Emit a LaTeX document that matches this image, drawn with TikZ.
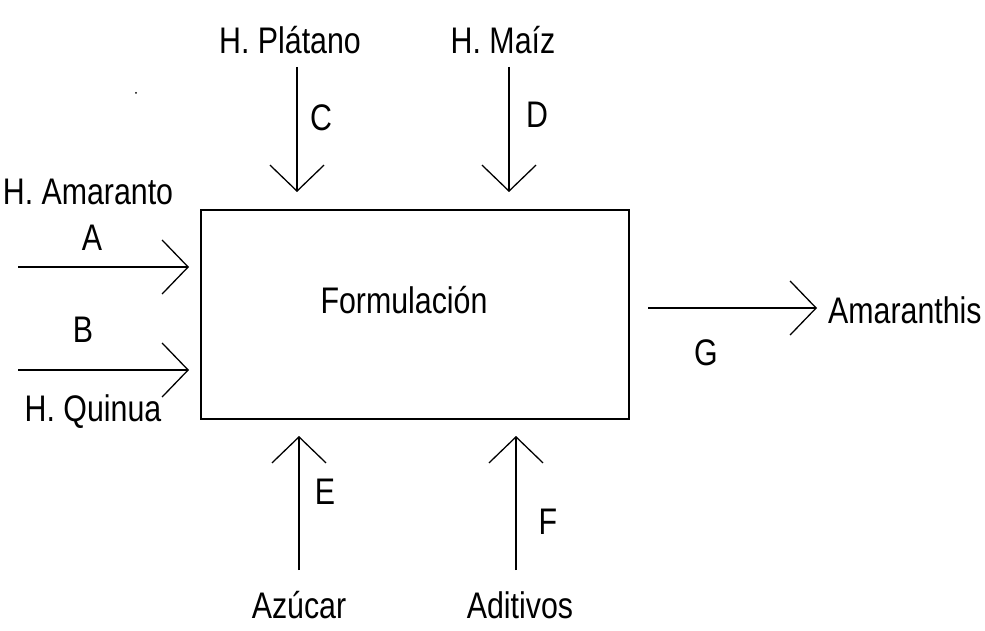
\documentclass[tikz,border=0pt]{standalone}
\usepackage{fontspec}
\setmainfont{Liberation Sans}[FakeStretch=0.82]
\usetikzlibrary{arrows.meta}
\begin{document}
\begin{tikzpicture}[x=1pt,y=-1pt,
  lbl/.style={inner sep=0pt,font=\fontsize{37}{40}\selectfont,text=black},
  flow/.style={line width=1.8pt,-{Straight Barb[length=26pt,width=54pt,line width=1.3pt]}},
  proc/.style={draw,line width=1.8pt,minimum width=428pt,minimum height=209pt,inner sep=0pt}]
\useasboundingbox (0,0) rectangle (985,631);
\node[proc] (box) at (415,314.5) {};
\node[lbl] (form) at (404,300) {Formulación};
% inputs left
\coordinate (a0) at (18,267);
\coordinate (a1) at (189,267);
\coordinate (b0) at (18,370);
\coordinate (b1) at (189,370);
\draw[flow] (a0) -- (a1);
\draw[flow] (b0) -- (b1);
\node[lbl] (ham) at (88,192) {H. Amaranto};
\node[lbl] (la) at (92,238) {A};
\node[lbl] (lb) at (83,330) {B};
\node[lbl] (hq) at (93,412) {H. Quinua};
% top
\coordinate (c0) at (297,67);
\coordinate (c1) at (297,192);
\coordinate (d0) at (509,67);
\coordinate (d1) at (509,192);
\draw[flow] (c0) -- (c1);
\draw[flow] (d0) -- (d1);
\node[lbl] (hp) at (290,40) {H. Plátano};
\node[lbl] (hm) at (503,40) {H. Maíz};
\node[lbl] (lc) at (321,118) {C};
\node[lbl] (ld) at (537,115) {D};
% bottom
\coordinate (e0) at (299,570);
\coordinate (e1) at (299,436);
\coordinate (f0) at (516,570);
\coordinate (f1) at (516,436);
\draw[flow] (e0) -- (e1);
\draw[flow] (f0) -- (f1);
\node[lbl] (le) at (325,492) {E};
\node[lbl] (lf) at (548,522) {F};
\node[lbl] (az) at (299,605) {Azúcar};
\node[lbl] (ad) at (520,605) {Aditivos};
% output
\coordinate (g0) at (648,308);
\coordinate (g1) at (817,308);
\draw[flow] (g0) -- (g1);
\node[lbl] (lg) at (706,353) {G};
\node[lbl,anchor=west] (am) at (828,310) {Amaranthis};
% stray dot
\fill (136,93) circle (1pt);
\end{tikzpicture}
\end{document}
